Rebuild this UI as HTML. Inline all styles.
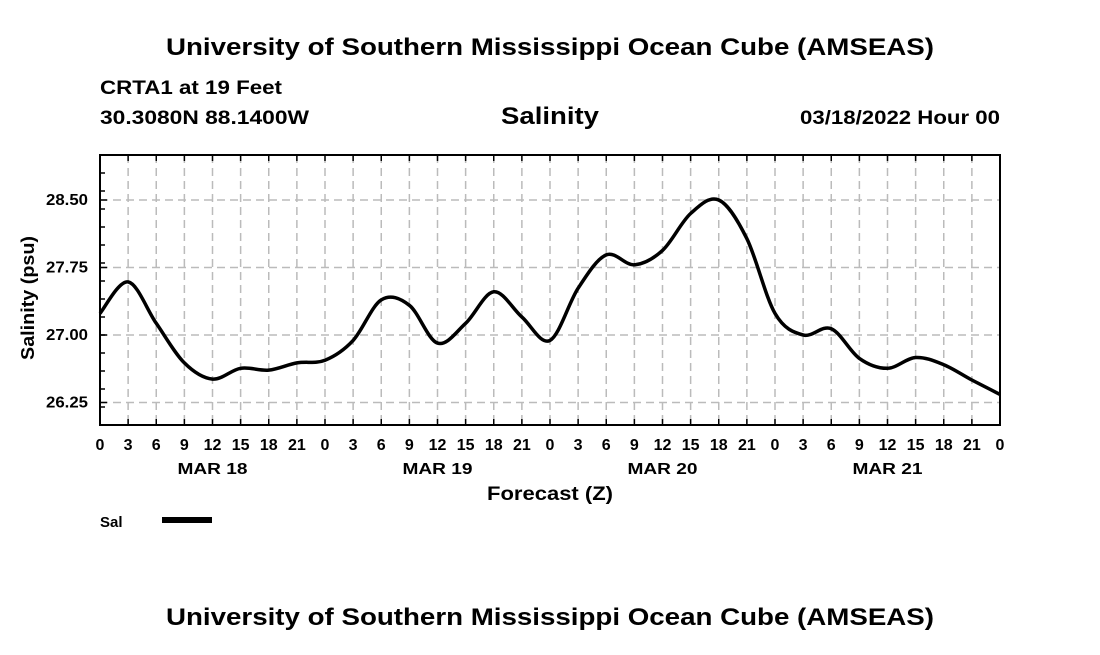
<!DOCTYPE html>
<html><head><meta charset="utf-8"><style>
body{margin:0;background:#fff;}
svg text{font-family:"Liberation Sans",sans-serif;font-weight:bold;fill:#000;}
</style></head><body>
<svg id="c" width="1100" height="650" xmlns="http://www.w3.org/2000/svg">
<text x="550" y="55" font-size="24" text-anchor="middle" textLength="768" lengthAdjust="spacingAndGlyphs">University of Southern Mississippi Ocean Cube (AMSEAS)</text>
<text x="100" y="94" font-size="19" textLength="182" lengthAdjust="spacingAndGlyphs">CRTA1 at 19 Feet</text>
<text x="100" y="124" font-size="19" textLength="209" lengthAdjust="spacingAndGlyphs">30.3080N  88.1400W</text>
<text x="550" y="124" font-size="24" text-anchor="middle" textLength="98" lengthAdjust="spacingAndGlyphs">Salinity</text>
<text x="1000" y="124" font-size="19" text-anchor="end" textLength="200" lengthAdjust="spacingAndGlyphs">03/18/2022 Hour 00</text>
<g id="grid"></g>
<g id="axes"></g>
<path id="line" fill="none" stroke="#000" stroke-width="3.5" stroke-linejoin="round"/>
<rect x="100" y="155" width="900" height="270" fill="none" stroke="#000" stroke-width="2"/>
<text transform="translate(34,298) rotate(-90)" font-size="18" text-anchor="middle" textLength="124" lengthAdjust="spacingAndGlyphs">Salinity (psu)</text>
<text x="550" y="500" font-size="19" text-anchor="middle" textLength="126" lengthAdjust="spacingAndGlyphs">Forecast (Z)</text>
<text x="100" y="527" font-size="15">Sal</text>
<line x1="162" y1="520" x2="212" y2="520" stroke="#000" stroke-width="6"/>
<text x="550" y="625" font-size="24" text-anchor="middle" textLength="768" lengthAdjust="spacingAndGlyphs">University of Southern Mississippi Ocean Cube (AMSEAS)</text>
</svg>
<script>
const hours=[0,3,6,9,12,15,18,21,24,27,30,33,36,39,42,45,48,51,54,57,60,63,66,69,72,75,78,81,84,87,90,93,96];
const salinity=[27.24,27.59,27.13,26.69,26.51,26.63,26.61,26.69,26.72,26.94,27.39,27.33,26.91,27.13,27.48,27.20,26.94,27.52,27.89,27.78,27.94,28.35,28.50,28.07,27.24,27.00,27.07,26.74,26.63,26.75,26.67,26.50,26.34];
const yTicks=[26.25,27.00,27.75,28.50];
const dayLabels=["MAR 18","MAR 19","MAR 20","MAR 21"];
const X0=100,X1=1000,Y0=425,Y1=155,YMIN=26,YMAX=29,HMAX=96;
const sx=h=>X0+(X1-X0)*h/HMAX;
const sy=v=>Y0-(Y0-Y1)*(v-YMIN)/(YMAX-YMIN);
const NS="http://www.w3.org/2000/svg";
function mk(tag,attrs,parent){const e=document.createElementNS(NS,tag);for(const k in attrs)e.setAttribute(k,attrs[k]);parent.appendChild(e);return e;}
const grid=document.getElementById('grid'),axes=document.getElementById('axes');
hours.forEach((h,i)=>{
  const x=sx(h);
  if(i>0&&i<hours.length-1){const l=mk('line',{x1:x,y1:Y1,x2:x,y2:Y0,stroke:'#bbb','stroke-width':1.5,'stroke-dasharray':'8,5'},grid);
  
  }
  mk('line',{x1:x,y1:Y1,x2:x,y2:Y1+6,stroke:'#000','stroke-width':1.5},axes);
  mk('line',{x1:x,y1:Y0,x2:x,y2:Y0-6,stroke:'#000','stroke-width':1.5},axes);
  const t=mk('text',{x:x,y:450,'font-size':16,'text-anchor':'middle'},axes);
  t.textContent=String(h%24);
  
  
});
dayLabels.forEach((d,i)=>{
  const t=mk('text',{x:sx(i*24+12),y:474,'font-size':16,'text-anchor':'middle',textLength:70,lengthAdjust:'spacingAndGlyphs'},axes);
  t.textContent=d;
  
  
});
yTicks.forEach(v=>{
  const y=sy(v);
  const l=mk('line',{x1:X0,y1:y,x2:X1,y2:y,stroke:'#bbb','stroke-width':1.5,'stroke-dasharray':'8,5'},grid);
  
  
  mk('line',{x1:X0,y1:y,x2:X0+7,y2:y,stroke:'#000','stroke-width':1.5},axes);
  const t=mk('text',{x:88,y:y+5,'font-size':16,'text-anchor':'end',textLength:42,lengthAdjust:'spacingAndGlyphs'},axes);
  t.textContent=v.toFixed(2);
  
  
});
for(let v=26.2;v<29;v+=0.2){const y=sy(v);mk('line',{x1:X0,y1:y,x2:X0+5,y2:y,stroke:'#000','stroke-width':1.5},axes);}
const P=hours.map((h,i)=>[sx(h),sy(salinity[i])]);
let d='M'+P[0][0]+','+P[0][1];
for(let i=0;i<P.length-1;i++){
  const p0=P[Math.max(0,i-1)],p1=P[i],p2=P[i+1],p3=P[Math.min(P.length-1,i+2)];
  const c1=[p1[0]+(p2[0]-p0[0])/6,p1[1]+(p2[1]-p0[1])/6];
  const c2=[p2[0]-(p3[0]-p1[0])/6,p2[1]-(p3[1]-p1[1])/6];
  d+=' C'+c1[0]+','+c1[1]+' '+c2[0]+','+c2[1]+' '+p2[0]+','+p2[1];
}
document.getElementById('line').setAttribute('d',d);
</script>
</body></html>
